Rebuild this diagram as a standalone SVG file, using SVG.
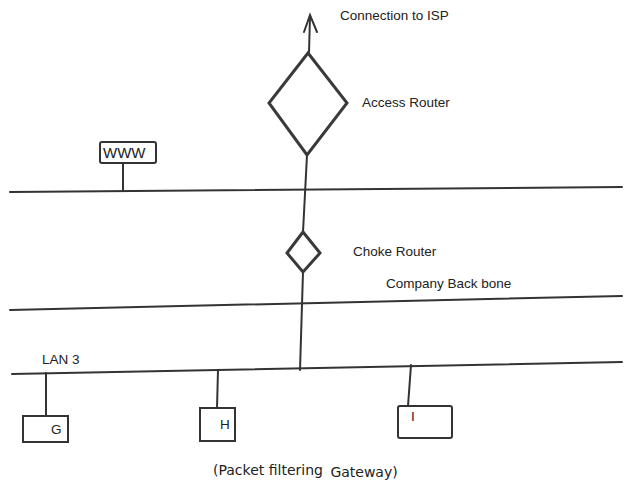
<svg xmlns="http://www.w3.org/2000/svg" width="624" height="487" viewBox="0 0 624 487">
<style>
.ln{stroke:#333;stroke-width:2;fill:none;stroke-linecap:round}
.rt{stroke:#3a3a3a;stroke-width:3;fill:#fff;stroke-linejoin:miter}
.bx{stroke:#333;stroke-width:2;fill:#fff}
.t{font-family:"Liberation Sans",Arial,sans-serif;font-size:13.5px;fill:#222}
.c{font-family:"DejaVu Sans",Verdana,sans-serif;font-size:14px;fill:#222}
</style>
<rect width="624" height="487" fill="#fff"/>
<g id="connectors">
<path class="ln" d="M10 192 L622 187"/>
<path class="ln" d="M10 310 L622 296"/>
<path class="ln" d="M12 374 L622 362"/>
<path class="ln" d="M309 53 L310 16"/>
<path class="ln" d="M304 32 L310 15 L317 32"/>
<path class="ln" d="M307 155 L303 232"/>
<path class="ln" d="M303 272 L300 370"/>
<path class="ln" d="M123 163 L123 191"/>
<path class="ln" d="M46 373 L46 416"/>
<path class="ln" d="M218 370 L217 408"/>
<path class="ln" d="M411 365 L408 406"/>
</g>
<g id="isp"><text class="t" x="340" y="20">Connection to ISP</text></g>
<g id="access-router">
<path class="rt" d="M308 53 L347 103 L307 155 L269 103 Z"/>
<text class="t" x="362" y="107">Access Router</text>
</g>
<g id="www">
<rect class="bx" x="100" y="142" width="56" height="21" rx="2"/>
<text class="t" x="103" y="158" style="font-size:15px">WWW</text>
</g>
<g id="choke-router">
<path class="rt" d="M303 232 L320 253 L303 272 L287 253 Z"/>
<text class="t" x="353" y="256">Choke Router</text>
</g>
<g id="backbone"><text class="t" x="386" y="288">Company Back bone</text></g>
<g id="lan3"><text class="t" x="42" y="364">LAN 3</text></g>
<g id="G">
<rect class="bx" x="23" y="416" width="45" height="26"/>
<text class="t" x="51" y="434">G</text>
</g>
<g id="H">
<rect class="bx" x="200" y="408" width="35" height="33"/>
<text class="t" x="220" y="429">H</text>
</g>
<g id="I">
<rect class="bx" x="398" y="406" width="54" height="32" rx="2"/>
<text class="t" x="411" y="421">I</text>
</g>
<g id="caption"><text class="c" x="213" y="475">(Packet filtering <tspan dy="2" dx="3">Gateway)</tspan></text></g>
</svg>
